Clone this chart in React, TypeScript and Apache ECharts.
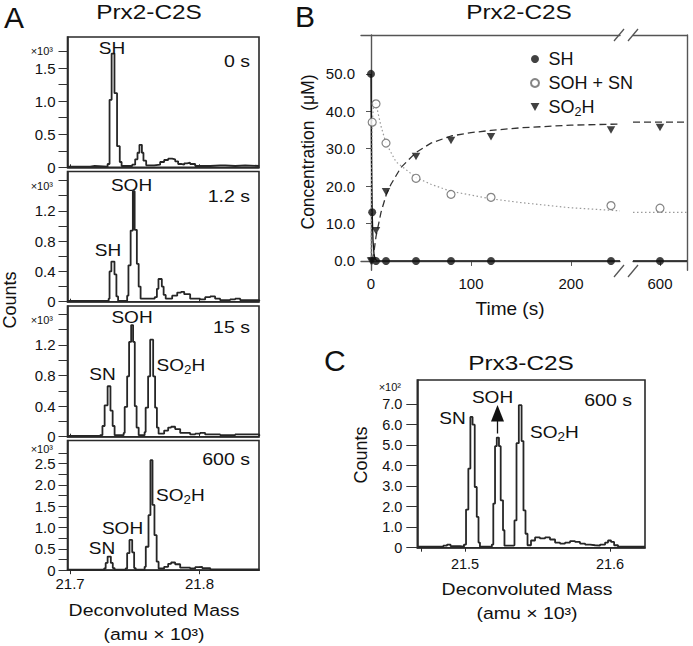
import React, { useEffect, useRef } from 'react';
import * as echarts from 'echarts';

const FONT = '"Liberation Sans", Arial, Helvetica, sans-serif';
const INK = '#111';

// ---------- Panel A : Prx2-C2S spectra  [mass (amu x10^3), counts (x10^3)] ----------
const prx2Spec0s: [number, number][] = [
  [21.6977, 0.01], [21.7155, 0.02], [21.719, 0.01], [21.729, 0.05], [21.7305, 1.02],
  [21.7321, 1.72], [21.7343, 1.12], [21.7363, 0.32], [21.7384, 0.08], [21.7398, 0.02],
  [21.748, 0.04], [21.7503, 0.12], [21.7521, 0.22], [21.7536, 0.34], [21.7555, 0.22],
  [21.7567, 0.1], [21.7588, 0.03], [21.765, 0.04], [21.7696, 0.08], [21.7727, 0.11],
  [21.7758, 0.13], [21.7789, 0.12], [21.7812, 0.09], [21.7835, 0.05], [21.7858, 0.04],
  [21.7882, 0.06], [21.7905, 0.07], [21.7928, 0.05], [21.7967, 0.02], [21.8044, 0.02],
  [21.8083, 0.03], [21.816, 0.03], [21.8199, 0.02], [21.8276, 0.03], [21.8353, 0.02],
  [21.8462, 0.01],
];
const prx2Spec1_2s: [number, number][] = [
  [21.6977, 0.01], [21.7298, 0.04], [21.7305, 0.4], [21.7319, 0.53], [21.7343, 0.36],
  [21.7358, 0.07], [21.7371, 0.01], [21.7441, 0.08], [21.7451, 0.48], [21.7468, 0.94],
  [21.7485, 1.46], [21.7499, 0.95], [21.7516, 0.5], [21.753, 0.2], [21.7545, 0.04],
  [21.7654, 0.06], [21.7671, 0.17], [21.7683, 0.3], [21.7709, 0.2], [21.7723, 0.09],
  [21.7739, 0.04], [21.7789, 0.08], [21.7828, 0.12], [21.7858, 0.13], [21.7882, 0.1],
  [21.7928, 0.04], [21.8005, 0.03], [21.8044, 0.06], [21.8083, 0.07], [21.8121, 0.04],
  [21.816, 0.02], [21.8237, 0.03], [21.8276, 0.04], [21.8315, 0.02], [21.8462, 0.01],
];
const prx2Spec15s: [number, number][] = [
  [21.6977, 0.01], [21.7232, 0.02], [21.725, 0.14], [21.7267, 0.41], [21.729, 0.66],
  [21.7312, 0.34], [21.7329, 0.14], [21.7344, 0.02], [21.7414, 0.05], [21.7422, 0.39],
  [21.7441, 0.79], [21.7456, 1.24], [21.7472, 1.46], [21.7487, 1.24], [21.75, 0.4],
  [21.7514, 0.12], [21.753, 0.02], [21.7576, 0.06], [21.7584, 0.38], [21.7603, 0.79],
  [21.7619, 1.27], [21.7642, 0.79], [21.7657, 0.38], [21.7671, 0.12], [21.7684, 0.04],
  [21.7727, 0.08], [21.7758, 0.12], [21.7781, 0.13], [21.7812, 0.1], [21.7851, 0.05],
  [21.7928, 0.03], [21.7967, 0.04], [21.8005, 0.05], [21.8044, 0.03], [21.816, 0.02],
  [21.8276, 0.03], [21.8462, 0.01],
];
const prx2Spec600s: [number, number][] = [
  [21.6977, 0.01], [21.7263, 0.04], [21.7275, 0.17], [21.729, 0.32], [21.7315, 0.17],
  [21.733, 0.05], [21.7344, 0.01], [21.7429, 0.04], [21.7441, 0.4], [21.7459, 0.71],
  [21.748, 0.42], [21.7495, 0.05], [21.7507, 0.01], [21.7576, 0.08], [21.7585, 0.55],
  [21.7606, 1.29], [21.7621, 2.58], [21.7637, 1.53], [21.7652, 0.82], [21.7669, 0.2],
  [21.7684, 0.04], [21.7727, 0.08], [21.7758, 0.15], [21.7781, 0.18], [21.7812, 0.14],
  [21.7851, 0.06], [21.7928, 0.04], [21.7967, 0.07], [21.799, 0.08], [21.8021, 0.05],
  [21.8083, 0.02], [21.8237, 0.02], [21.8462, 0.01],
];
const aTimeLabels = ['0 s', '1.2 s', '15 s', '600 s'];
const aYLabelValues = [
  [0, 0.5, 1.0, 1.5],
  [0, 0.4, 0.8, 1.2],
  [0, 0.4, 0.8, 1.2],
  [0, 0.5, 1.0, 1.5, 2.0, 2.5],
];
const aYTickValues = [
  [0, 0.25, 0.5, 0.75, 1.0, 1.25, 1.5, 1.75],
  [0, 0.2, 0.4, 0.6, 0.8, 1.0, 1.2, 1.4, 1.6],
  [0, 0.2, 0.4, 0.6, 0.8, 1.0, 1.2, 1.4, 1.6],
  [0, 0.25, 0.5, 0.75, 1.0, 1.25, 1.5, 1.75, 2.0, 2.25, 2.5, 2.75],
];
const aYMax = [1.97, 1.72, 1.71, 3.04];
const massTicksA = [21.7, 21.8];

// ---------- Panel B : Prx2-C2S kinetics (time s, concentration uM) ----------
const shTimes = [0, 1.2, 5, 15, 45, 80, 120, 240, 600];
const shConc = [50, 13, 0, 0, 0, 0, 0, 0, 0];
const sohSnTimes = [1.2, 5, 15, 45, 80, 120, 240, 600];
const sohSnConc = [37.1, 42.0, 31.5, 22.1, 17.8, 17.0, 14.8, 14.1];
const so2hTimes = [0, 1.2, 5, 15, 45, 80, 120, 240, 600];
const so2hConc = [0, 0, 8.1, 18.5, 27.9, 32.2, 33.2, 35.0, 35.7];
// fitted curves
const shFit: [number, number][] = [
  [0, 50], [0.3, 36], [0.6, 25.5], [1.2, 13], [2, 5.5], [3, 1.8], [4, 0.6], [6, 0], [249, 0],
  [573, 0], [627, 0],
];
const sohSnFit: [number, number][] = [
  [0, 0], [0.6, 20], [1.2, 37], [3, 43], [5, 42], [10, 36], [15, 31.5], [25, 26.5],
  [45, 22.3], [60, 20.5], [80, 18.6], [120, 16.6], [150, 15.6], [200, 14.2], [249, 13.4],
  [573, 13.0], [627, 13.0],
];
const so2hFit: [number, number][] = [
  [1.2, 0], [3, 2.5], [5, 6.5], [10, 13], [15, 17.5], [20, 20.5], [30, 25], [45, 29],
  [60, 31.5], [80, 33.4], [100, 34.3], [120, 34.9], [150, 35.6], [200, 36.3], [249, 36.6],
  [573, 37.1], [627, 37.1],
];
const bYTicks = [0, 10, 20, 30, 40, 50];
const bXTicksLeft = [0, 100, 200];
const bXTicksRight = [600];

// ---------- Panel C : Prx3-C2S spectrum at 600 s  [mass, counts (x10^2)] ----------
const prx3Spec600s: [number, number][] = [
  [21.4676, 0.05], [21.485, 0.1], [21.4876, 0.15], [21.49, 0.08], [21.4966, 0.05],
  [21.4993, 0.15], [21.5007, 1.86], [21.5023, 3.86], [21.5037, 6.38], [21.5052, 6.0],
  [21.5067, 2.96], [21.5081, 1.5], [21.5093, 0.25], [21.5103, 0.05], [21.5185, 0.15],
  [21.5195, 2.15], [21.5207, 4.95], [21.5219, 5.37], [21.5234, 4.95], [21.5246, 2.31],
  [21.5262, 0.85], [21.5272, 0.1], [21.5334, 0.12], [21.5341, 1.33], [21.5355, 5.1],
  [21.5371, 6.95], [21.539, 5.2], [21.5403, 1.82], [21.5417, 0.68], [21.5431, 0.12],
  [21.5455, 0.35], [21.5483, 0.5], [21.5517, 0.45], [21.5552, 0.5], [21.5586, 0.4],
  [21.5621, 0.25], [21.5655, 0.2], [21.569, 0.25], [21.5724, 0.32], [21.5759, 0.28],
  [21.5793, 0.2], [21.5828, 0.15], [21.5862, 0.12], [21.5897, 0.1], [21.5931, 0.15],
  [21.5966, 0.25], [21.5986, 0.35], [21.6007, 0.28], [21.6028, 0.12], [21.6055, 0.05],
  [21.6241, 0.03],
];
const cYLabelValues = [0, 1, 2, 3, 4, 5, 6, 7];
const massTicksC = [21.47, 21.5, 21.6];
const massLabelsC = [21.5, 21.6];

// ---------- layout ----------
const gridsA = [
  { top: 37, height: 130.3 },
  { top: 171.5, height: 130.2 },
  { top: 306, height: 130.7 },
  { top: 440.5, height: 129.7 },
];

const txt = (text: string, x: number, y: number, o: any = {}) => ({
  type: 'text',
  x,
  y,
  rotation: o.rotation || 0,
  scaleX: o.sx || 1,
  silent: true,
  z: 100,
  style: {
    text,
    fill: o.color || INK,
    fontSize: o.size || 16,
    fontFamily: FONT,
    textAlign: o.align || 'center',
    align: o.align || 'center',
    textVerticalAlign: 'middle',
    verticalAlign: 'middle',
    rich: o.rich,
  },
});

const subRich = (size: number) => ({
  m: { fontSize: size, fontFamily: FONT, fill: INK },
  s: { fontSize: Math.round(size * 0.7), fontFamily: FONT, fill: INK, padding: [Math.round(size * 0.55), 0, 0, 0] },
});

const fmtY = (v: number) => (v === 0 ? '0' : v.toFixed(1));

export default function App() {
  const ref = useRef<HTMLDivElement>(null);
  useEffect(() => {
    if (!ref.current) return;
    const chart = echarts.init(ref.current, null, { renderer: 'svg' });

    const grid: any[] = [];
    const xAxis: any[] = [];
    const yAxis: any[] = [];
    const series: any[] = [];

    // ---- Panel A grids ----
    gridsA.forEach((g, i) => {
      grid.push({
        left: 67.5, top: g.top, width: 191.5, height: g.height,
        show: true, borderColor: '#2a2a2a', borderWidth: 1.6, backgroundColor: 'transparent',
      });
      const last = i === 3;
      xAxis.push({
        type: 'value', gridIndex: i, min: 21.698, max: 21.846,
        axisLine: { show: true, lineStyle: { color: '#2a2a2a', width: 1.6 } },
        splitLine: { show: false },
        axisTick: { show: true, inside: !last, length: last ? 4 : 3, customValues: massTicksA, lineStyle: { color: '#2a2a2a' } },
        axisLabel: {
          show: last, customValues: massTicksA, margin: 6, fontSize: 15, fontFamily: FONT, color: INK,
          formatter: (v: number) => v.toFixed(1),
        },
      });
      yAxis.push({
        type: 'value', gridIndex: i, min: 0, max: aYMax[i],
        axisLine: { show: true, lineStyle: { color: '#2a2a2a', width: 1.6 } },
        splitLine: { show: false },
        axisTick: { show: true, length: 9, customValues: aYTickValues[i], lineStyle: { color: '#333' } },
        axisLabel: { customValues: aYLabelValues[i], margin: 12, fontSize: 15, fontFamily: FONT, color: INK, formatter: fmtY },
      });
    });
    const aSpectra = [prx2Spec0s, prx2Spec1_2s, prx2Spec15s, prx2Spec600s];
    aSpectra.forEach((d, i) => {
      series.push({
        type: 'line', name: 'Prx2-C2S ' + aTimeLabels[i], xAxisIndex: i, yAxisIndex: i,
        data: d, step: 'end', symbol: 'none', silent: true,
        lineStyle: { color: '#262626', width: 1.8 },
      });
    });

    // ---- Panel B grids (broken time axis) ----
    grid.push({ left: 361, top: 35, width: 259, height: 235.3 }); // 4
    grid.push({ left: 633, top: 35, width: 54, height: 235.3 }); // 5
    const bLine = { show: true, lineStyle: { color: '#555', width: 1.4 } };
    const bLabel = { fontSize: 15, fontFamily: FONT, color: INK };
    xAxis.push({
      type: 'value', gridIndex: 4, min: -10, max: 249, position: 'bottom',
      axisLine: bLine, splitLine: { show: false },
      axisTick: { show: true, length: 5, customValues: bXTicksLeft, lineStyle: { color: '#555' } },
      axisLabel: { ...bLabel, customValues: bXTicksLeft, margin: 6 },
    }); // 4
    xAxis.push({
      type: 'value', gridIndex: 4, min: -10, max: 249, position: 'top',
      axisLine: bLine, splitLine: { show: false }, axisTick: { show: false }, axisLabel: { show: false },
    }); // 5
    xAxis.push({
      type: 'value', gridIndex: 5, min: 573, max: 627, position: 'bottom',
      axisLine: bLine, splitLine: { show: false },
      axisTick: { show: true, length: 5, customValues: bXTicksRight, lineStyle: { color: '#555' } },
      axisLabel: { ...bLabel, customValues: bXTicksRight, margin: 6 },
    }); // 6
    xAxis.push({
      type: 'value', gridIndex: 5, min: 573, max: 627, position: 'top',
      axisLine: bLine, splitLine: { show: false }, axisTick: { show: false }, axisLabel: { show: false },
    }); // 7
    yAxis.push({
      type: 'value', gridIndex: 4, min: -2.5, max: 60.4, position: 'left',
      axisLine: bLine, splitLine: { show: false },
      axisTick: { show: true, length: 5, customValues: bYTicks, lineStyle: { color: '#555' } },
      axisLabel: { ...bLabel, customValues: bYTicks, margin: 6, formatter: (v: number) => v.toFixed(1) },
    }); // 4
    yAxis.push({
      type: 'value', gridIndex: 5, min: -2.5, max: 60.4, position: 'right',
      axisLine: bLine, splitLine: { show: false }, axisTick: { show: false }, axisLabel: { show: false },
    }); // 5

    const split = (pts: [number, number][]) => [pts.filter((p) => p[0] <= 250), pts.filter((p) => p[0] > 250)];
    const pairs = (t: number[], c: number[]) => t.map((v, i) => [v, c[i]] as [number, number]);

    const fits: [string, [number, number][], any][] = [
      ['SH fit', shFit, { color: '#111', width: 1.3, type: 'solid' }],
      ['SOH + SN fit', sohSnFit, { color: '#9a9a9a', width: 1.2, type: [1.5, 2.5] }],
      ['SO2H fit', so2hFit, { color: '#333', width: 1.3, type: [7, 4] }],
    ];
    fits.forEach(([name, d, ls]) => {
      const [l, r] = split(d);
      series.push({ type: 'line', name, xAxisIndex: 4, yAxisIndex: 4, data: l, symbol: 'none', silent: true, lineStyle: ls, z: 2 });
      series.push({ type: 'line', name, xAxisIndex: 6, yAxisIndex: 5, data: r, symbol: 'none', silent: true, lineStyle: ls, z: 2 });
    });

    const TRI = 'path://M0,0L10,0L5,9Z';
    const pts: [string, [number, number][], any][] = [
      ['SO2H', pairs(so2hTimes, so2hConc), { symbol: TRI, symbolSize: [8.5, 7.5], itemStyle: { color: '#111' } }],
      ['SOH + SN', pairs(sohSnTimes, sohSnConc), { symbol: 'circle', symbolSize: 8, itemStyle: { color: '#fff', borderColor: '#666', borderWidth: 1.2 } }],
      ['SH', pairs(shTimes, shConc), { symbol: 'circle', symbolSize: 8, itemStyle: { color: '#111' } }],
    ];
    pts.forEach(([name, d, st]) => {
      const [l, r] = split(d);
      series.push({ type: 'scatter', name, xAxisIndex: 4, yAxisIndex: 4, data: l, z: 5, ...st });
      series.push({ type: 'scatter', name, xAxisIndex: 6, yAxisIndex: 5, data: r, z: 5, ...st });
    });

    // ---- Panel C grid ----
    grid.push({
      left: 417.3, top: 380, width: 227.7, height: 167.7,
      show: true, borderColor: '#2a2a2a', borderWidth: 1.6, backgroundColor: 'transparent',
    }); // 6
    xAxis.push({
      type: 'value', gridIndex: 6, min: 21.4671, max: 21.6241,
      axisLine: { show: true, lineStyle: { color: '#2a2a2a', width: 1.6 } },
      splitLine: { show: false },
      axisTick: { show: true, length: 4, customValues: massTicksC, lineStyle: { color: '#2a2a2a' } },
      axisLabel: { customValues: massLabelsC, margin: 9, fontSize: 14.5, fontFamily: FONT, color: INK, formatter: (v: number) => v.toFixed(1) },
    }); // 8
    yAxis.push({
      type: 'value', gridIndex: 6, min: 0, max: 8.18,
      axisLine: { show: true, lineStyle: { color: '#2a2a2a', width: 1.6 } },
      splitLine: { show: false },
      axisTick: { show: true, length: 11, customValues: cYLabelValues, lineStyle: { color: '#333' } },
      axisLabel: { customValues: cYLabelValues, margin: 15, fontSize: 14.5, fontFamily: FONT, color: INK, formatter: fmtY },
    }); // 6
    series.push({
      type: 'line', name: 'Prx3-C2S 600 s', xAxisIndex: 8, yAxisIndex: 6,
      data: prx3Spec600s, step: 'end', symbol: 'none', silent: true,
      lineStyle: { color: '#262626', width: 1.8 },
    });

    // ---- text & decorations ----
    const lab = 17;
    const graphic: any[] = [
      txt('A', 4, 17, { size: 30, align: 'left' }),
      txt('B', 295, 16, { size: 30, align: 'left' }),
      txt('C', 324, 360, { size: 30, align: 'left' }),
      txt('Prx2-C2S', 149, 12, { size: 20, sx: 1.22 }),
      txt('Prx2-C2S', 519, 12, { size: 20, sx: 1.22 }),
      txt('Prx3-C2S', 521, 363.5, { size: 20, sx: 1.22 }),
      // panel A
      txt('×10³', 53, 51, { size: 11, align: 'right' }),
      txt('×10³', 53, 186, { size: 11, align: 'right' }),
      txt('×10³', 53, 319.5, { size: 11, align: 'right' }),
      txt('×10³', 53, 449, { size: 11, align: 'right' }),
      txt(aTimeLabels[0], 250, 61, { size: lab, align: 'right', sx: 1.15 }),
      txt(aTimeLabels[1], 250, 196, { size: lab, align: 'right', sx: 1.15 }),
      txt(aTimeLabels[2], 250, 326.5, { size: lab, align: 'right', sx: 1.15 }),
      txt(aTimeLabels[3], 250, 459, { size: lab, align: 'right', sx: 1.15 }),
      txt('SH', 112, 48.5, { size: lab, sx: 1.12 }),
      txt('SOH', 131.5, 185, { size: lab, sx: 1.12 }),
      txt('SH', 108, 250.5, { size: lab, sx: 1.12 }),
      txt('SOH', 132, 317, { size: lab, sx: 1.12 }),
      txt('SN', 102.5, 374.5, { size: lab, sx: 1.12 }),
      txt('{m|SO}{s|2}{m|H}', 156.5, 365, { size: lab, align: 'left', sx: 1.12, rich: subRich(lab) }),
      txt('{m|SO}{s|2}{m|H}', 156, 495, { size: lab, align: 'left', sx: 1.12, rich: subRich(lab) }),
      txt('SOH', 122.5, 528.5, { size: lab, sx: 1.12 }),
      txt('SN', 102, 548.5, { size: lab, sx: 1.12 }),
      txt('Counts', 9.5, 300, { size: 18, rotation: Math.PI / 2 }),
      txt('Deconvoluted Mass', 154, 611, { size: 16.5, sx: 1.18 }),
      txt('(amu × 10³)', 154, 635, { size: 16.5, sx: 1.18 }),
      // panel B
      txt('Concentration  (μM)', 308, 152, { size: 17.5, rotation: Math.PI / 2 }),
      txt('Time (s)', 510, 308.5, { size: 19 }),
      { type: 'line', silent: true, z: 100, shape: { x1: 614, y1: 277, x2: 624, y2: 265 }, style: { stroke: '#555', lineWidth: 1.3 } },
      { type: 'line', silent: true, z: 100, shape: { x1: 628, y1: 277, x2: 638, y2: 265 }, style: { stroke: '#555', lineWidth: 1.3 } },
      { type: 'line', silent: true, z: 100, shape: { x1: 614, y1: 41, x2: 624, y2: 29 }, style: { stroke: '#555', lineWidth: 1.3 } },
      { type: 'line', silent: true, z: 100, shape: { x1: 628, y1: 41, x2: 638, y2: 29 }, style: { stroke: '#555', lineWidth: 1.3 } },
      // panel C
      txt('×10²', 401, 387, { size: 11, align: 'right' }),
      txt('600 s', 632, 400, { size: lab, align: 'right', sx: 1.15 }),
      txt('SN', 452.5, 418.5, { size: lab, sx: 1.12 }),
      txt('SOH', 492.5, 397.5, { size: lab, sx: 1.12 }),
      txt('{m|SO}{s|2}{m|H}', 530, 432, { size: lab, align: 'left', sx: 1.12, rich: subRich(lab) }),
      { type: 'line', silent: true, z: 100, shape: { x1: 497.5, y1: 433.5, x2: 497.5, y2: 419 }, style: { stroke: '#111', lineWidth: 1.3 } },
      { type: 'polygon', silent: true, z: 100, shape: { points: [[491, 421.5], [504, 421.5], [497.5, 405]] }, style: { fill: '#111' } },
      txt('Counts', 361, 455, { size: 18, rotation: Math.PI / 2 }),
      txt('Deconvoluted Mass', 527, 589.5, { size: 16.5, sx: 1.18 }),
      txt('(amu × 10³)', 527, 613.5, { size: 16.5, sx: 1.18 }),
    ];

    chart.setOption({
      animation: false,
      backgroundColor: '#ffffff',
      textStyle: { fontFamily: FONT },
      legend: {
        data: ['SH', 'SOH + SN', 'SO2H'],
        orient: 'vertical',
        left: 525,
        top: 45,
        itemWidth: 17,
        itemHeight: 8,
        itemGap: 6,
        selectedMode: false,
        formatter: (n: string) => (n === 'SO2H' ? '{m|SO}{s|2}{m|H}' : n),
        textStyle: {
          fontSize: 18, fontFamily: FONT, color: INK,
          rich: {
            m: { fontSize: 18, fontFamily: FONT, color: INK },
            s: { fontSize: 12.5, fontFamily: FONT, color: INK, padding: [10, 0, 0, 0] },
          },
        },
      },
      grid,
      xAxis,
      yAxis,
      series,
      graphic: { elements: graphic },
    });
    return () => chart.dispose();
  }, []);
  return <div ref={ref} style={{ position: 'absolute', left: 0, top: 0, width: 693, height: 646 }} />;
}
